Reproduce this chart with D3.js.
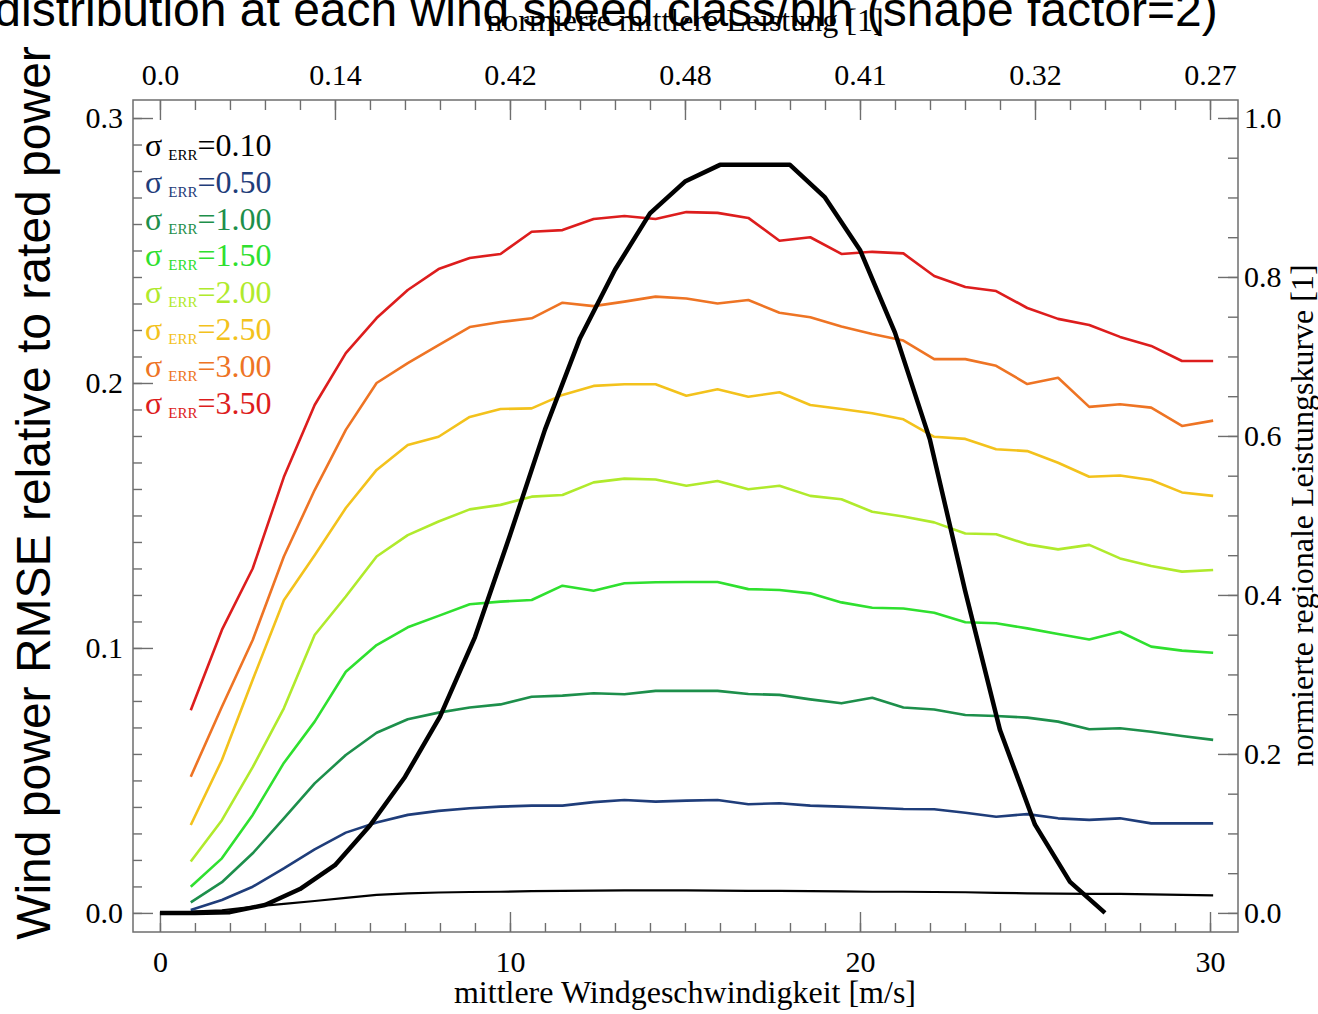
<!DOCTYPE html>
<html lang="en">
<head>
  <meta charset="UTF-8">
  <title>RMSE vs mittlere Windgeschwindigkeit</title>
  <script src="https://cdn.jsdelivr.net/npm/d3@7"></script>
</head>

<style>
body { margin: 0; background: white; }
.axis text { font-family: "Liberation Serif", "Times New Roman", serif; font-size: 30px; fill: black; }
.axis line { stroke: #6e6e6e; stroke-width: 1.4; }
.serif { font-family: "Liberation Serif", "Times New Roman", serif; }
</style>

<body>

  <svg width="1318" height="1014"></svg>

  <script>

    // wind speed bins (m/s)
    var windBins = [0.88, 1.77, 2.65, 3.54, 4.42, 5.31, 6.19, 7.08, 7.96, 8.85, 9.73, 10.62,
      11.5, 12.39, 13.27, 14.16, 15.04, 15.93, 16.81, 17.7, 18.58, 19.47, 20.35, 21.24,
      22.12, 23.01, 23.89, 24.78, 25.66, 26.55, 27.43, 28.32, 29.2, 30.09]

    // RMSE per sigma_ERR
    var rmse010 = [0.0005, 0.001, 0.0023, 0.0034, 0.0045, 0.0057, 0.0068, 0.0074, 0.0077, 0.0079,
      0.008, 0.0082, 0.0083, 0.0084, 0.0085, 0.0085, 0.0085, 0.0084, 0.0083, 0.0083, 0.0082,
      0.0081, 0.008, 0.008, 0.0079, 0.0078, 0.0076, 0.0074, 0.0073, 0.0072, 0.0072, 0.007, 0.0068, 0.0066]
    var rmse050 = [0.0011, 0.0049, 0.0099, 0.0168, 0.024, 0.0303, 0.0341, 0.037, 0.0385, 0.0395,
      0.0401, 0.0405, 0.0405, 0.0418, 0.0426, 0.042, 0.0424, 0.0426, 0.041, 0.0414, 0.0405,
      0.0401, 0.0397, 0.0392, 0.0391, 0.0378, 0.0363, 0.0373, 0.0357, 0.0351, 0.0357, 0.0338, 0.0338, 0.0338]
    var rmse100 = [0.004, 0.0116, 0.0225, 0.0357, 0.0489, 0.0596, 0.068, 0.0731, 0.0756, 0.0775,
      0.0787, 0.0816, 0.082, 0.0829, 0.0825, 0.0838, 0.0838, 0.0838, 0.0826, 0.0823, 0.0806,
      0.0791, 0.0812, 0.0775, 0.0768, 0.0747, 0.0743, 0.0737, 0.0722, 0.0693, 0.0697, 0.0684, 0.0668, 0.0653]
    var rmse150 = [0.0099, 0.0206, 0.037, 0.0566, 0.0722, 0.091, 0.1011, 0.1078, 0.1121, 0.1165,
      0.1175, 0.1181, 0.1235, 0.1216, 0.1244, 0.1248, 0.1249, 0.1249, 0.1222, 0.1219, 0.1206,
      0.1172, 0.1152, 0.1149, 0.1133, 0.1097, 0.1093, 0.1074, 0.1053, 0.1032, 0.1061, 0.1005, 0.099, 0.0982]
    var rmse200 = [0.0194, 0.035, 0.055, 0.0772, 0.1049, 0.1194, 0.1345, 0.1426, 0.1477, 0.1523,
      0.154, 0.1571, 0.1577, 0.1625, 0.1639, 0.1636, 0.1612, 0.163, 0.1599, 0.1612, 0.1574,
      0.1561, 0.1514, 0.1496, 0.1474, 0.1432, 0.1429, 0.1391, 0.1372, 0.1389, 0.1338, 0.1309, 0.1288, 0.1294]
    var rmse250 = [0.0332, 0.0577, 0.088, 0.118, 0.135, 0.1528, 0.1672, 0.1766, 0.1797, 0.1872,
      0.1902, 0.1904, 0.1955, 0.1989, 0.1995, 0.1995, 0.1952, 0.1976, 0.1948, 0.1965, 0.1917,
      0.1902, 0.1886, 0.1863, 0.1797, 0.1789, 0.175, 0.1743, 0.1699, 0.1646, 0.1651, 0.1634, 0.1587, 0.1574]
    var rmse300 = [0.0514, 0.0778, 0.103, 0.1345, 0.1596, 0.1823, 0.2, 0.2075, 0.2143, 0.2211,
      0.223, 0.2244, 0.2303, 0.229, 0.2307, 0.2326, 0.2319, 0.23, 0.2313, 0.2265, 0.2248,
      0.2213, 0.2185, 0.216, 0.209, 0.209, 0.2065, 0.1996, 0.202, 0.191, 0.192, 0.1907, 0.1838, 0.1858]
    var rmse350 = [0.0765, 0.1068, 0.130, 0.1645, 0.1917, 0.2113, 0.2245, 0.2351, 0.243, 0.2472,
      0.2487, 0.2571, 0.2577, 0.2619, 0.263, 0.2619, 0.2645, 0.2642, 0.2623, 0.2537, 0.255,
      0.2487, 0.2495, 0.2489, 0.2404, 0.2362, 0.2347, 0.2283, 0.2242, 0.2219, 0.2174, 0.214, 0.2083, 0.2083]

    var sigmaLabels = ["0.10", "0.50", "1.00", "1.50", "2.00", "2.50", "3.00", "3.50"]
    var sigmaColors = ["#000000", "#1f3d7a", "#1d8f4b", "#2fe02f", "#b0ea2c", "#f3c21c", "#ee7424", "#dd1d1d"]
    var series = [rmse010, rmse050, rmse100, rmse150, rmse200, rmse250, rmse300, rmse350]

    // regional power curve (right axis)
    var curveSpeed = [0, 1, 2, 3, 4, 5, 6, 7, 8, 9, 10, 11, 12, 13, 14, 15, 16, 17, 18, 19, 20,
      21, 22, 23, 24, 25, 26, 27]
    var curvePower = [0, 0, 0.001, 0.01, 0.03, 0.06, 0.11, 0.171, 0.247, 0.347, 0.475, 0.608,
      0.723, 0.809, 0.88, 0.92, 0.941, 0.941, 0.941, 0.90, 0.834, 0.73, 0.595, 0.406, 0.23,
      0.111, 0.039, 0.0]

    // top axis: normalised mean power at every 5 m/s
    var topTickValues = [0, 5, 10, 15, 20, 25, 30]
    var topTickLabels = ["0.0", "0.14", "0.42", "0.48", "0.41", "0.32", "0.27"]

    var pL = 133, pR = 1238, pT = 100, pB = 932

    var x = d3.scaleLinear().domain([-0.77, 30.8]).range([pL, pR])
    var y = d3.scaleLinear().domain([-0.0072, 0.3068]).range([pB, pT])
    var y2 = d3.scaleLinear().domain([-0.024, 1.0226]).range([pB, pT])

    var svg = d3.select('svg')

    // title (clipped at the top of the picture)
    svg.append('text')
      .attr('x', 606).attr('y', 26)
      .attr('text-anchor', 'middle')
      .style('font', '48px "Liberation Sans", Arial, sans-serif')
      .text('distribution at each wind speed class/bin (shape factor=2)')

    // axes: major + minor ticks, all pointing inward
    function addAxis(axis, tr, minor) {
      var g = svg.append('g').attr('class', 'axis').attr('transform', tr).call(axis)
      g.select('.domain').remove()
      if (minor) g.selectAll('text').remove()
      return g
    }

    addAxis(d3.axisBottom(x).tickValues(d3.range(0, 31, 1)).tickSize(-9), 'translate(0,' + pB + ')', true)
    addAxis(d3.axisBottom(x).tickValues([0, 10, 20, 30]).tickSize(-20).tickPadding(19).tickFormat(d3.format('d')), 'translate(0,' + pB + ')')

    addAxis(d3.axisTop(x).tickValues(d3.range(0, 31, 1)).tickSize(-10), 'translate(0,' + pT + ')', true)
    addAxis(d3.axisTop(x).tickValues(topTickValues).tickSize(-20).tickPadding(15)
      .tickFormat((d, i) => topTickLabels[i]), 'translate(0,' + pT + ')')

    addAxis(d3.axisLeft(y).tickValues(d3.range(0, 0.301, 0.01)).tickSize(-9), 'translate(' + pL + ',0)', true)
    addAxis(d3.axisLeft(y).tickValues([0, 0.1, 0.2, 0.3]).tickSize(-20).tickPadding(10).tickFormat(d3.format('.1f')), 'translate(' + pL + ',0)')

    addAxis(d3.axisRight(y2).tickValues(d3.range(0, 1.001, 0.05)).tickSize(-10), 'translate(' + pR + ',0)', true)
    addAxis(d3.axisRight(y2).tickValues([0, 0.2, 0.4, 0.6, 0.8, 1.0]).tickSize(-20).tickPadding(6).tickFormat(d3.format('.1f')), 'translate(' + pR + ',0)')

    // frame
    svg.append('rect')
      .attr('x', pL).attr('y', pT)
      .attr('width', pR - pL).attr('height', pB - pT)
      .attr('fill', 'none').attr('stroke', '#6e6e6e').attr('stroke-width', 1.5)

    // axis titles
    svg.append('text').attr('class', 'serif')
      .attr('x', x(15)).attr('y', 31).attr('text-anchor', 'middle')
      .style('font-size', '32px').text('normierte mittlere Leistung [1]')
    svg.append('text').attr('class', 'serif')
      .attr('x', x(15)).attr('y', 1003).attr('text-anchor', 'middle')
      .style('font-size', '32px').text('mittlere Windgeschwindigkeit [m/s]')
    svg.append('text').attr('class', 'serif')
      .attr('transform', 'translate(1313,' + y2(0.5) + ') rotate(-90)')
      .attr('text-anchor', 'middle')
      .style('font-size', '32px').text('normierte regionale Leistungskurve [1]')
    svg.append('text')
      .attr('transform', 'translate(50,493) rotate(-90)')
      .attr('text-anchor', 'middle')
      .style('font', '48px "Liberation Sans", Arial, sans-serif')
      .text('Wind power RMSE relative to rated power')

    // RMSE lines
    var line = d3.line().x((d, i) => x(windBins[i])).y(d => y(d))
    svg.append('g').selectAll('path')
      .data(series)
      .enter()
      .append('path')
      .attr('d', line)
      .attr('fill', 'none')
      .attr('stroke', (d, i) => sigmaColors[i])
      .attr('stroke-width', (d, i) => i == 0 ? 2.2 : 2.6)
      .attr('stroke-linejoin', 'round')

    // power curve
    var line2 = d3.line().x((d, i) => x(curveSpeed[i])).y(d => y2(d))
    svg.append('path')
      .attr('d', line2(curvePower))
      .attr('fill', 'none')
      .attr('stroke', 'black')
      .attr('stroke-width', 4.5)
      .attr('stroke-linejoin', 'round')

    // legend
    var leg = svg.append('g').attr('class', 'serif')
      .selectAll('text')
      .data(sigmaLabels)
      .enter()
      .append('text')
      .attr('x', 145)
      .attr('y', (d, i) => 156 + i * 36.8)
      .attr('fill', (d, i) => sigmaColors[i])
      .style('font-size', '32px')
    leg.append('tspan').text('σ')
    leg.append('tspan').attr('dx', 6).attr('dy', 4).style('font-size', '15px').text('ERR')
    leg.append('tspan').attr('dy', -4).text(d => '=' + d)

  </script>

</body>
</html>
